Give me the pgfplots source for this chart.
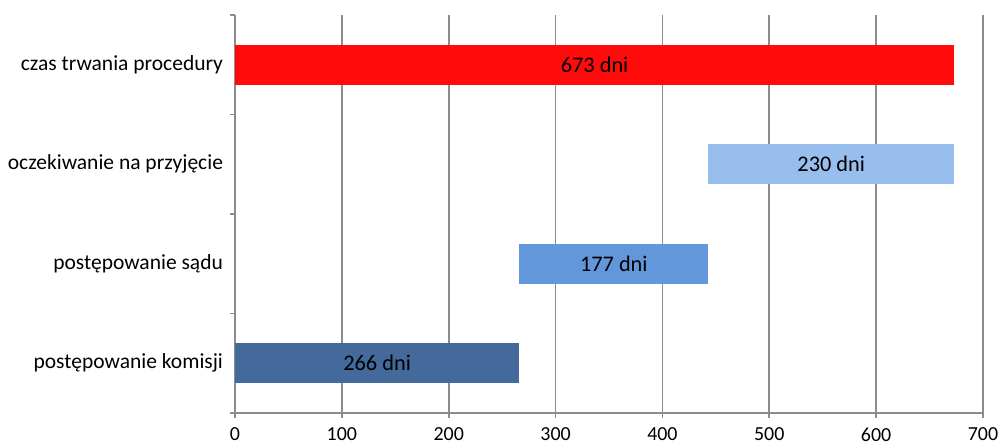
\documentclass[border=0pt]{standalone}
\usepackage{fontspec}
\setmainfont{Carlito}
\usepackage{pgfplots}
\pgfplotsset{compat=1.18}
\definecolor{cDark}{HTML}{436A9B}
\definecolor{cMid}{HTML}{6297DB}
\definecolor{cLight}{HTML}{97BEEC}
\definecolor{cRed}{HTML}{FF0B0B}
\definecolor{cGrid}{HTML}{8C8C8C}
\begin{document}
\begin{tikzpicture}
\path[use as bounding box] (0,0) rectangle (499bp,222bp);
\pgfplotsset{
  common/.style={
    at={(117.5bp,15.5bp)}, anchor=south west,
    scale only axis, width=374bp, height=199bp,
    xmin=0, xmax=700, ymin=-0.5, ymax=3.5,
  }
}
\begin{axis}[
  common,
  xbar stacked, bar width=0.4,
  axis x line*=bottom, axis y line*=left,
  axis line style={cGrid, line width=0.8pt},
  xtick={0,100,...,700},
  xmajorgrids, major grid style={cGrid, line width=0.8pt},
  ytick={-0.5,0.5,1.5,2.5,3.5},
  yticklabels={},
  extra y ticks={0,1,2,3},
  extra y tick labels={postępowanie komisji, postępowanie sądu, oczekiwanie na przyjęcie, czas trwania procedury},
  extra y tick style={major tick length=0pt, tick style={draw=none},
    yticklabel style={font=\fontsize{10.8}{13}\selectfont, xshift=-2.5bp}},
  tick align=outside,
  major tick length=2.5bp,
  tick style={cGrid, line width=0.8pt},
  x tick label style={font=\fontsize{10}{12}\selectfont, yshift=-1.5bp},
  /pgf/number format/assume math mode=true,
  clip=false,
]
\addplot[draw=none, fill=none, forget plot] coordinates {(0,0) (266,1) (443,2) (0,3)};
\addplot[draw=none, fill=cDark] coordinates {(266,0) (0,1) (0,2) (0,3)};
\addplot[draw=none, fill=cMid] coordinates {(0,0) (177,1) (0,2) (0,3)};
\addplot[draw=none, fill=cLight] coordinates {(0,0) (0,1) (230,2) (0,3)};
\addplot[draw=none, fill=cRed] coordinates {(0,0) (0,1) (0,2) (673,3)};
\end{axis}
\begin{axis}[
  common, hide axis,
]
\addplot[draw=none, mark=none, nodes near coords, point meta=explicit symbolic,
  every node near coord/.style={anchor=center, font=\fontsize{11.2}{13}\selectfont}]
  table[meta=lab, row sep=\\] {
  x y lab \\
  133 0 {266 dni} \\
  354.5 1 {177 dni} \\
  558 2 {230 dni} \\
  336.5 3 {673 dni} \\
};
\end{axis}
\end{tikzpicture}
\end{document}
